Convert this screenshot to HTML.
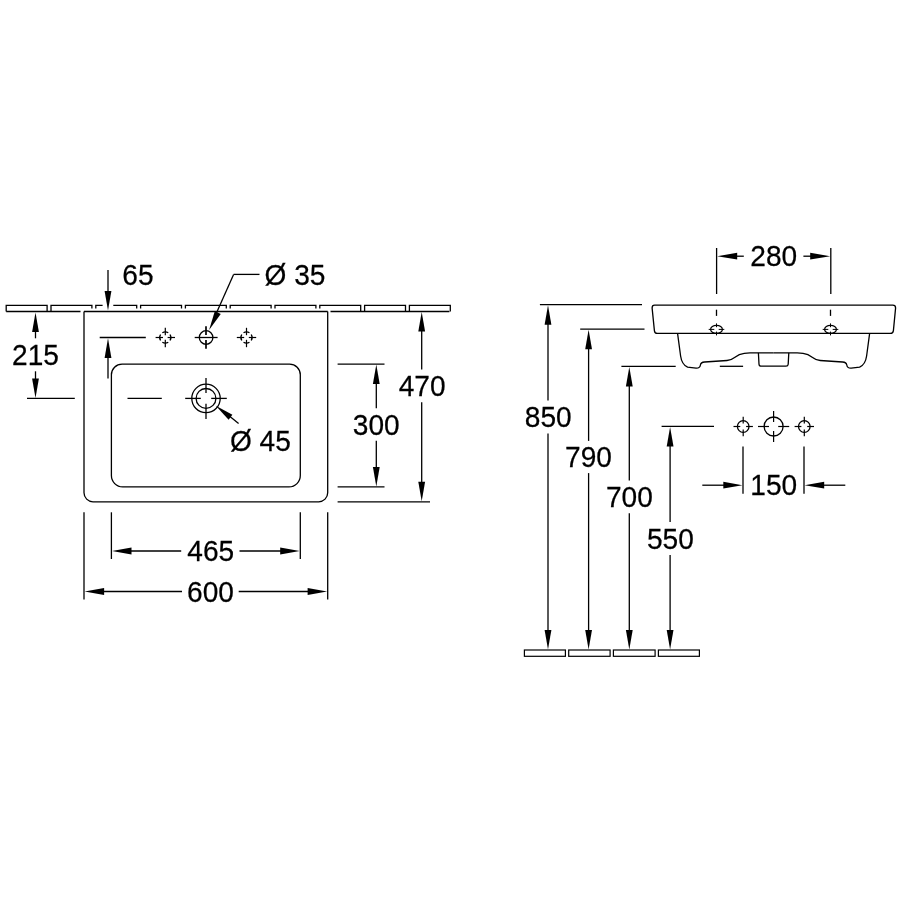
<!DOCTYPE html>
<html><head><meta charset="utf-8"><style>
html,body{margin:0;padding:0;background:#fff;width:903px;height:903px;overflow:hidden}
svg{position:absolute;left:0;top:0;will-change:transform}
text{font-family:"Liberation Sans",sans-serif;font-size:29.6px;fill:#000;stroke:#000;stroke-width:0.25px}
</style></head><body>
<svg width="903" height="903" viewBox="0 0 903 903">
<g stroke="#000" fill="none" stroke-linecap="butt">
<path d="M6.20,311.5 L6.20,305.4 L47.10,305.4 L47.10,311.5" stroke-width="1.3" fill="none"/>
<path d="M51.00,311.5 L51.00,305.4 L91.90,305.4 L91.90,308.4" stroke-width="1.3" fill="none"/>
<path d="M95.80,308.4 L95.80,305.4 L102.6,305.4" stroke-width="1.3" fill="none"/>
<path d="M113.3,305.4 L136.70,305.4 L136.70,308.4" stroke-width="1.3" fill="none"/>
<path d="M140.60,308.4 L140.60,305.4 L181.50,305.4 L181.50,308.4" stroke-width="1.3" fill="none"/>
<path d="M185.40,308.4 L185.40,305.4 L226.30,305.4 L226.30,308.4" stroke-width="1.3" fill="none"/>
<path d="M230.20,308.4 L230.20,305.4 L271.10,305.4 L271.10,308.4" stroke-width="1.3" fill="none"/>
<path d="M275.00,308.4 L275.00,305.4 L315.90,305.4 L315.90,308.4" stroke-width="1.3" fill="none"/>
<path d="M319.80,308.4 L319.80,305.4 L360.70,305.4 L360.70,311.5" stroke-width="1.3" fill="none"/>
<path d="M364.60,311.5 L364.60,305.4 L405.50,305.4 L405.50,311.5" stroke-width="1.3" fill="none"/>
<path d="M409.40,311.5 L409.40,305.4 L450.30,305.4 L450.30,311.5" stroke-width="1.3" fill="none"/>
<line x1="6.20" y1="311.50" x2="80.50" y2="311.50" stroke-width="1.3"/>
<line x1="84.00" y1="311.50" x2="327.70" y2="311.50" stroke-width="1.3"/>
<line x1="330.50" y1="311.50" x2="449.40" y2="311.50" stroke-width="1.3"/>
<path d="M84,311.5 L84,492.8 A9,9 0 0 0 93,501.8 L318.7,501.8 A9,9 0 0 0 327.7,492.8 L327.7,311.5" stroke-width="1.3" fill="none"/>
<path d="M111.4,374.8 A10.7,10.7 0 0 1 122.1,364.1 L289.6,364.1 A10.7,10.7 0 0 1 300.3,374.8 L300.3,475.6 A11.3,11.3 0 0 1 289.0,486.9 L122.7,486.9 A11.3,11.3 0 0 1 111.4,475.6 Z" stroke-width="1.3" fill="none"/>
<line x1="108.00" y1="270.00" x2="108.00" y2="295.00" stroke-width="1.3"/>
<path d="M108.00,310.60 L104.60,291.00 L111.40,291.00 Z" fill="#000" stroke="none"/>
<line x1="99.70" y1="337.50" x2="145.80" y2="337.50" stroke-width="1.3"/>
<path d="M108.00,338.30 L111.40,358.00 L104.60,358.00 Z" fill="#000" stroke="none"/>
<line x1="108.00" y1="350.00" x2="108.00" y2="378.60" stroke-width="1.3"/>
<text transform="translate(137.90,284.70) scale(0.95,1)" text-anchor="middle">65</text>
<line x1="35.50" y1="325.00" x2="35.50" y2="338.30" stroke-width="1.3"/>
<path d="M35.50,312.60 L38.90,332.00 L32.10,332.00 Z" fill="#000" stroke="none"/>
<text transform="translate(35.50,364.80) scale(0.95,1)" text-anchor="middle">215</text>
<line x1="35.50" y1="371.30" x2="35.50" y2="385.00" stroke-width="1.3"/>
<path d="M35.50,398.00 L32.10,378.50 L38.90,378.50 Z" fill="#000" stroke="none"/>
<line x1="27.00" y1="398.40" x2="74.80" y2="398.40" stroke-width="1.3"/>
<path d="M170.05,334.53 A5.6,5.6 0 0 1 170.05,340.47 M168.27,342.25 A5.6,5.6 0 0 1 162.33,342.25 M160.55,340.47 A5.6,5.6 0 0 1 160.55,334.53 M162.33,332.75 A5.6,5.6 0 0 1 168.27,332.75 " stroke-width="1.3" fill="none"/>
<line x1="155.60" y1="337.50" x2="163.00" y2="337.50" stroke-width="1.2"/>
<line x1="165.30" y1="327.80" x2="165.30" y2="335.20" stroke-width="1.2"/>
<line x1="167.60" y1="337.50" x2="175.00" y2="337.50" stroke-width="1.2"/>
<line x1="165.30" y1="339.80" x2="165.30" y2="347.20" stroke-width="1.2"/>
<path d="M251.25,334.53 A5.6,5.6 0 0 1 251.25,340.47 M249.47,342.25 A5.6,5.6 0 0 1 243.53,342.25 M241.75,340.47 A5.6,5.6 0 0 1 241.75,334.53 M243.53,332.75 A5.6,5.6 0 0 1 249.47,332.75 " stroke-width="1.3" fill="none"/>
<line x1="236.80" y1="337.50" x2="244.20" y2="337.50" stroke-width="1.2"/>
<line x1="246.50" y1="327.80" x2="246.50" y2="335.20" stroke-width="1.2"/>
<line x1="248.80" y1="337.50" x2="256.20" y2="337.50" stroke-width="1.2"/>
<line x1="246.50" y1="339.80" x2="246.50" y2="347.20" stroke-width="1.2"/>
<circle cx="206.10" cy="337.50" r="6.8" stroke-width="1.3" fill="none"/>
<line x1="194.70" y1="337.50" x2="217.60" y2="337.50" stroke-width="1.3"/>
<line x1="206.00" y1="326.30" x2="206.00" y2="335.00" stroke-width="1.7"/>
<line x1="206.00" y1="340.00" x2="206.00" y2="348.70" stroke-width="1.7"/>
<line x1="259.50" y1="274.40" x2="233.60" y2="274.40" stroke-width="1.3"/>
<line x1="233.60" y1="274.40" x2="216.00" y2="314.00" stroke-width="1.3"/>
<path d="M209.10,329.90 L214.85,311.02 L220.75,313.98 Z" fill="#000" stroke="none"/>
<text transform="translate(264.50,284.60) scale(0.95,1)" text-anchor="start">Ø 35</text>
<line x1="127.50" y1="398.40" x2="161.80" y2="398.40" stroke-width="1.3"/>
<circle cx="206.00" cy="398.40" r="14.2" stroke-width="1.3" fill="none"/>
<circle cx="206.00" cy="398.40" r="9.9" stroke-width="1.3" fill="none"/>
<line x1="185.20" y1="398.40" x2="200.80" y2="398.40" stroke-width="1.3"/>
<line x1="211.20" y1="398.40" x2="226.80" y2="398.40" stroke-width="1.3"/>
<line x1="206.00" y1="377.90" x2="206.00" y2="393.10" stroke-width="1.3"/>
<line x1="206.00" y1="403.70" x2="206.00" y2="419.00" stroke-width="1.3"/>
<path d="M215.80,405.80 L232.40,414.75 L228.60,419.65 Z" fill="#000" stroke="none"/>
<line x1="225.00" y1="412.50" x2="238.60" y2="423.50" stroke-width="1.3"/>
<text transform="translate(229.90,450.60) scale(0.95,1)" text-anchor="start">Ø 45</text>
<line x1="337.60" y1="364.10" x2="384.50" y2="364.10" stroke-width="1.3"/>
<line x1="337.60" y1="486.90" x2="384.50" y2="486.90" stroke-width="1.3"/>
<path d="M376.30,364.60 L379.70,384.00 L372.90,384.00 Z" fill="#000" stroke="none"/>
<line x1="376.30" y1="375.00" x2="376.30" y2="408.20" stroke-width="1.3"/>
<text transform="translate(376.30,434.70) scale(0.95,1)" text-anchor="middle">300</text>
<line x1="376.30" y1="440.80" x2="376.30" y2="475.00" stroke-width="1.3"/>
<path d="M376.30,486.40 L372.90,467.00 L379.70,467.00 Z" fill="#000" stroke="none"/>
<line x1="337.60" y1="501.80" x2="430.00" y2="501.80" stroke-width="1.3"/>
<path d="M421.70,312.10 L425.10,331.60 L418.30,331.60 Z" fill="#000" stroke="none"/>
<line x1="421.70" y1="320.00" x2="421.70" y2="369.60" stroke-width="1.3"/>
<text transform="translate(422.10,395.60) scale(0.95,1)" text-anchor="middle">470</text>
<line x1="421.70" y1="402.20" x2="421.70" y2="490.00" stroke-width="1.3"/>
<path d="M421.70,501.30 L418.30,481.80 L425.10,481.80 Z" fill="#000" stroke="none"/>
<line x1="111.40" y1="512.30" x2="111.40" y2="559.00" stroke-width="1.3"/>
<line x1="300.30" y1="512.30" x2="300.30" y2="559.00" stroke-width="1.3"/>
<path d="M112.00,551.00 L131.50,547.60 L131.50,554.40 Z" fill="#000" stroke="none"/>
<line x1="120.00" y1="551.00" x2="181.20" y2="551.00" stroke-width="1.3"/>
<line x1="239.50" y1="551.00" x2="290.00" y2="551.00" stroke-width="1.3"/>
<path d="M299.70,551.00 L280.20,554.40 L280.20,547.60 Z" fill="#000" stroke="none"/>
<text transform="translate(210.70,561.00) scale(0.95,1)" text-anchor="middle">465</text>
<line x1="84.00" y1="512.30" x2="84.00" y2="599.50" stroke-width="1.3"/>
<line x1="327.70" y1="512.30" x2="327.70" y2="599.50" stroke-width="1.3"/>
<path d="M84.60,591.50 L104.10,588.10 L104.10,594.90 Z" fill="#000" stroke="none"/>
<line x1="95.00" y1="591.50" x2="182.00" y2="591.50" stroke-width="1.3"/>
<line x1="238.70" y1="591.50" x2="315.00" y2="591.50" stroke-width="1.3"/>
<path d="M327.10,591.50 L307.60,594.90 L307.60,588.10 Z" fill="#000" stroke="none"/>
<text transform="translate(210.50,601.50) scale(0.95,1)" text-anchor="middle">600</text>
<line x1="539.90" y1="304.70" x2="642.00" y2="304.70" stroke-width="1.3"/>
<path d="M548.00,305.30 L551.40,324.80 L544.60,324.80 Z" fill="#000" stroke="none"/>
<line x1="548.00" y1="315.00" x2="548.00" y2="400.60" stroke-width="1.3"/>
<text transform="translate(548.30,427.30) scale(0.95,1)" text-anchor="middle">850</text>
<line x1="548.00" y1="433.40" x2="548.00" y2="640.00" stroke-width="1.3"/>
<path d="M548.00,649.40 L544.60,629.90 L551.40,629.90 Z" fill="#000" stroke="none"/>
<line x1="580.20" y1="329.20" x2="644.50" y2="329.20" stroke-width="1.3"/>
<path d="M588.60,329.80 L592.00,349.30 L585.20,349.30 Z" fill="#000" stroke="none"/>
<line x1="588.60" y1="340.00" x2="588.60" y2="440.90" stroke-width="1.3"/>
<text transform="translate(588.50,467.00) scale(0.95,1)" text-anchor="middle">790</text>
<line x1="588.60" y1="473.10" x2="588.60" y2="640.00" stroke-width="1.3"/>
<path d="M588.60,649.40 L585.20,629.90 L592.00,629.90 Z" fill="#000" stroke="none"/>
<line x1="621.40" y1="366.30" x2="675.70" y2="366.30" stroke-width="1.3"/>
<line x1="719.80" y1="366.30" x2="743.10" y2="366.30" stroke-width="1.3"/>
<path d="M629.30,366.90 L632.70,386.40 L625.90,386.40 Z" fill="#000" stroke="none"/>
<line x1="629.30" y1="377.00" x2="629.30" y2="480.50" stroke-width="1.3"/>
<text transform="translate(629.40,506.70) scale(0.95,1)" text-anchor="middle">700</text>
<line x1="629.30" y1="513.30" x2="629.30" y2="640.00" stroke-width="1.3"/>
<path d="M629.30,649.40 L625.90,629.90 L632.70,629.90 Z" fill="#000" stroke="none"/>
<line x1="661.60" y1="426.40" x2="714.00" y2="426.40" stroke-width="1.3"/>
<path d="M670.10,427.00 L673.50,446.50 L666.70,446.50 Z" fill="#000" stroke="none"/>
<line x1="670.10" y1="437.00" x2="670.10" y2="522.00" stroke-width="1.3"/>
<text transform="translate(670.40,548.50) scale(0.95,1)" text-anchor="middle">550</text>
<line x1="670.10" y1="554.90" x2="670.10" y2="640.00" stroke-width="1.3"/>
<path d="M670.10,649.40 L666.70,629.90 L673.50,629.90 Z" fill="#000" stroke="none"/>
<rect x="524.4" y="650.0" width="41.00" height="6.30" stroke-width="1.2" fill="none"/>
<rect x="568.7" y="650.0" width="41.40" height="6.30" stroke-width="1.2" fill="none"/>
<rect x="613.4" y="650.0" width="41.70" height="6.30" stroke-width="1.2" fill="none"/>
<rect x="658.4" y="650.0" width="41.00" height="6.30" stroke-width="1.2" fill="none"/>
<path d="M654.6,305.1 L892.8,305.1 Q895.6,305.1 895.6,307.9 L893.4,330.6 Q893.1,333.4 890.3,333.4 L657.3,333.4 Q654.6,333.4 654.4,330.6 L652.1,307.9 Q652.1,305.1 654.6,305.1 Z" stroke-width="1.3" fill="none"/>
<path d="M677.6,333.6 L680.6,356.0 Q681.8,364.6 687.6,367.2 L696.0,368.2 Q699.9,368.4 700.4,365.0 Q700.9,362.3 704.6,362.0 L727.0,360.5 Q731.0,360.2 734.6,357.4 Q739.2,353.9 744.2,353.3 L750.0,352.9 L773.6,352.9" stroke-width="1.3" fill="none"/>
<path d="M869.6,333.6 L866.6,356.0 Q865.4,364.6 859.6,367.2 L851.2,368.2 Q847.3,368.4 846.8,365.0 Q846.3,362.3 842.6,362.0 L820.2,360.5 Q816.2,360.2 812.6,357.4 Q808.0,353.9 803.0,353.3 L797.2,352.9 L773.6,352.9" stroke-width="1.3" fill="none"/>
<path d="M758.4,352.9 L759.0,364.2 Q759.2,366.2 761.2,366.2 L786.0,366.2 Q788.0,366.2 788.2,364.2 L788.8,352.9" stroke-width="1.3" fill="none"/>
<ellipse cx="716.5" cy="329.4" rx="5.9" ry="4.0" stroke-width="1.3" fill="none"/>
<line x1="708.70" y1="329.40" x2="714.30" y2="329.40" stroke-width="1.0"/>
<line x1="718.70" y1="329.40" x2="724.30" y2="329.40" stroke-width="1.0"/>
<line x1="716.50" y1="323.40" x2="716.50" y2="327.20" stroke-width="1.0"/>
<line x1="716.50" y1="331.60" x2="716.50" y2="335.40" stroke-width="1.0"/>
<line x1="716.50" y1="309.70" x2="716.50" y2="315.90" stroke-width="1.3"/>
<ellipse cx="830.5" cy="329.4" rx="5.9" ry="4.0" stroke-width="1.3" fill="none"/>
<line x1="822.70" y1="329.40" x2="828.30" y2="329.40" stroke-width="1.0"/>
<line x1="832.70" y1="329.40" x2="838.30" y2="329.40" stroke-width="1.0"/>
<line x1="830.50" y1="323.40" x2="830.50" y2="327.20" stroke-width="1.0"/>
<line x1="830.50" y1="331.60" x2="830.50" y2="335.40" stroke-width="1.0"/>
<line x1="830.50" y1="309.70" x2="830.50" y2="315.90" stroke-width="1.3"/>
<line x1="716.60" y1="248.00" x2="716.60" y2="294.00" stroke-width="1.3"/>
<line x1="830.80" y1="248.00" x2="830.80" y2="294.00" stroke-width="1.3"/>
<path d="M717.20,256.20 L737.20,252.80 L737.20,259.60 Z" fill="#000" stroke="none"/>
<line x1="725.00" y1="256.20" x2="743.80" y2="256.20" stroke-width="1.3"/>
<path d="M830.20,256.20 L810.20,259.60 L810.20,252.80 Z" fill="#000" stroke="none"/>
<line x1="803.40" y1="256.20" x2="822.00" y2="256.20" stroke-width="1.3"/>
<text transform="translate(773.70,266.30) scale(0.95,1)" text-anchor="middle">280</text>
<circle cx="743.20" cy="426.50" r="5.8" stroke-width="1.3" fill="none"/>
<line x1="733.50" y1="426.50" x2="740.30" y2="426.50" stroke-width="1.2"/>
<line x1="746.10" y1="426.50" x2="752.90" y2="426.50" stroke-width="1.2"/>
<line x1="743.20" y1="416.80" x2="743.20" y2="423.60" stroke-width="1.2"/>
<line x1="743.20" y1="429.40" x2="743.20" y2="436.20" stroke-width="1.2"/>
<circle cx="773.60" cy="426.50" r="9.5" stroke-width="1.3" fill="none"/>
<line x1="758.00" y1="426.50" x2="769.00" y2="426.50" stroke-width="1.2"/>
<line x1="778.20" y1="426.50" x2="789.20" y2="426.50" stroke-width="1.2"/>
<line x1="773.60" y1="410.90" x2="773.60" y2="421.90" stroke-width="1.2"/>
<line x1="773.60" y1="431.10" x2="773.60" y2="442.10" stroke-width="1.2"/>
<circle cx="804.30" cy="426.50" r="5.8" stroke-width="1.3" fill="none"/>
<line x1="794.60" y1="426.50" x2="801.40" y2="426.50" stroke-width="1.2"/>
<line x1="807.20" y1="426.50" x2="814.00" y2="426.50" stroke-width="1.2"/>
<line x1="804.30" y1="416.80" x2="804.30" y2="423.60" stroke-width="1.2"/>
<line x1="804.30" y1="429.40" x2="804.30" y2="436.20" stroke-width="1.2"/>
<line x1="743.00" y1="446.60" x2="743.00" y2="493.80" stroke-width="1.3"/>
<line x1="804.00" y1="446.60" x2="804.00" y2="493.80" stroke-width="1.3"/>
<line x1="702.30" y1="485.20" x2="730.00" y2="485.20" stroke-width="1.3"/>
<path d="M742.40,485.20 L723.30,488.60 L723.30,481.80 Z" fill="#000" stroke="none"/>
<line x1="820.00" y1="485.20" x2="845.30" y2="485.20" stroke-width="1.3"/>
<path d="M804.60,485.20 L824.20,481.80 L824.20,488.60 Z" fill="#000" stroke="none"/>
<text transform="translate(773.80,495.00) scale(0.95,1)" text-anchor="middle">150</text>
</g>
</svg>
</body></html>
